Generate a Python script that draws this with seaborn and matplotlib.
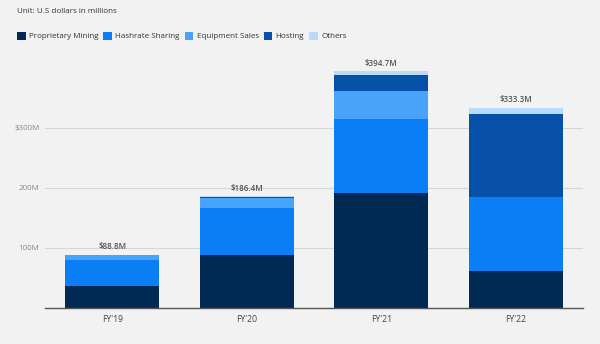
import matplotlib
matplotlib.use("Agg")
import matplotlib.pyplot as plt
import seaborn as sns
import numpy as np
import pandas as pd
from matplotlib.patches import Patch

years = ["FY'19", "FY'20", "FY'21", "FY'22"]
proprietary_mining = [37.0, 88.0, 192.0, 62.0]
hashrate_sharing = [43.0, 79.0, 123.5, 123.0]
equipment_sales = [8.0, 16.4, 46.2, 0.0]
hosting = [0.0, 2.0, 26.0, 139.0]
others = [0.8, 1.0, 7.0, 9.3]
totals = [88.8, 186.4, 394.7, 333.3]
total_labels = ["$88.8M", "$186.4M", "$394.7M", "$333.3M"]
series_names = ["Proprietary Mining", "Hashrate Sharing", "Equipment Sales", "Hosting", "Others"]
colors = ["#002a54", "#0a7ff5", "#4aa3fa", "#0650a8", "#b8dbfa"]
ytick_vals = [100, 200, 300]
ytick_labels = ["100M", "200M", "$300M"]

sns.set_theme(style="white")
plt.rcParams["font.family"] = ["Open Sans", "DejaVu Sans"]

bg = "#f2f2f2"
fs = 5.8
fig = plt.figure(figsize=(6, 3.44), dpi=100, facecolor=bg)
ax = fig.add_axes([0.075, 0.1047, 0.897, 0.7238], facecolor=bg)

series = [proprietary_mining, hashrate_sharing, equipment_sales, hosting, others]
cum = np.cumsum(np.array(series), axis=0)
# draw from top layer down so lower layers overlay
for i in range(len(series) - 1, -1, -1):
    df = pd.DataFrame({"year": years, "value": cum[i]})
    sns.barplot(data=df, x="year", y="value", color=colors[i], width=0.70,
                saturation=1, ax=ax, linewidth=0, zorder=3)

for i, (t, lab) in enumerate(zip(totals, total_labels)):
    ax.text(i, t + 6, lab, ha="center", va="bottom", fontsize=fs,
            color="#555555", fontweight="semibold")

ax.set_xlim(-0.5, 3.5)
ax.set_ylim(0, 415)
ax.set_yticks(ytick_vals)
ax.set_yticklabels(ytick_labels)
ax.set_xlabel("")
ax.set_ylabel("")
for v in ytick_vals:
    ax.axhline(v, color="#d6d6d6", linewidth=0.8, zorder=1)
for s in ["top", "right", "left"]:
    ax.spines[s].set_visible(False)
ax.spines["bottom"].set_color("#555555")
ax.spines["bottom"].set_linewidth(1.0)
ax.spines["bottom"].set_zorder(4)
ax.tick_params(axis="y", length=0, pad=4, labelsize=fs, labelcolor="#8a8a8a")
ax.tick_params(axis="x", length=0, pad=5, labelsize=6.2, labelcolor="#444444")
ax.grid(False)

fig.text(0.028, 0.968, "Unit: U.S dollars in millions", fontsize=fs, color="#333333",
         ha="left", va="center")

handles = [Patch(facecolor=c, edgecolor="none") for c in colors]
fig.legend(handles, series_names, loc="center left", bbox_to_anchor=(0.016, 0.895),
           ncol=5, frameon=False, fontsize=fs, handlelength=1.1, handleheight=1.1,
           handletextpad=0.4, columnspacing=0.6, labelcolor="#333333")

fig.savefig("out.png", dpi=100, facecolor=bg)
